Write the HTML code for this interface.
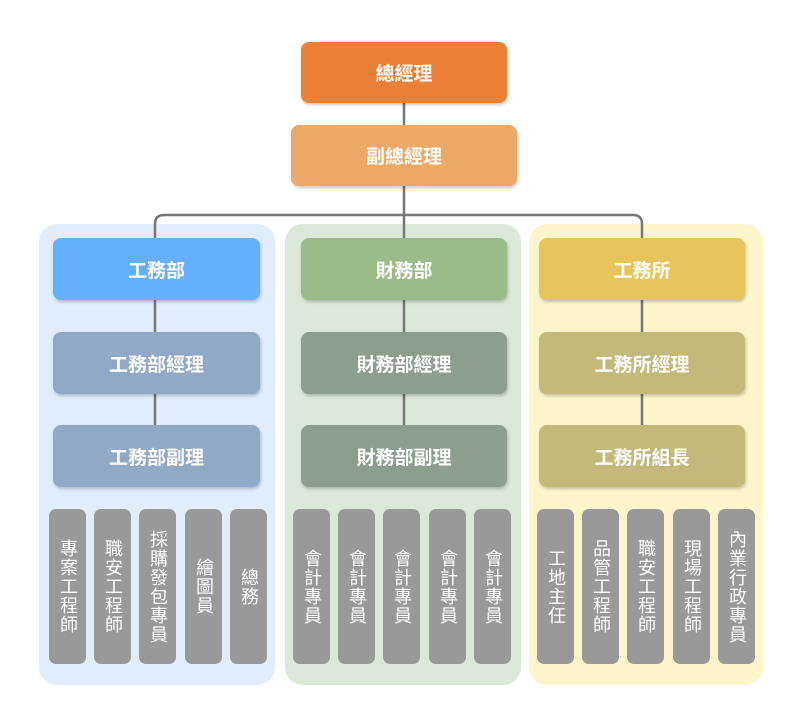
<!DOCTYPE html>
<html><head><meta charset="utf-8"><style>
body{margin:0;width:800px;height:720px;background:#fff;position:relative;overflow:hidden;font-family:"Liberation Sans","Noto Sans CJK TC",sans-serif}
.p{position:absolute;border-radius:18px}
.b{position:absolute;border-radius:8px;color:#fff;font-weight:bold;font-size:19px;display:flex;align-items:center;justify-content:center;box-shadow:1px 2px 3px rgba(0,0,0,.22);letter-spacing:0}
.l{position:absolute;top:509px;height:155px;width:37px;border-radius:7px;background:#999;color:#fff;font-size:18px;writing-mode:vertical-rl;display:flex;align-items:center;justify-content:center;line-height:37px;letter-spacing:1px}
svg{position:absolute;left:0;top:0}
</style></head><body>
<div class="p" style="left:39px;top:224px;width:236px;height:461px;background:#E1EDFC"></div>
<div class="p" style="left:285px;top:224px;width:236px;height:461px;background:#DCE8DA"></div>
<div class="p" style="left:529px;top:224px;width:234px;height:461px;background:#FDF6CA"></div>
<svg width="800" height="720"><g fill="none" stroke="#777" stroke-width="2.5">
<path d="M404 103V125M404 186V238"/>
<path d="M155 238V224Q155 215 164 215H633Q642 215 642 224V238"/>
<path d="M155 300V332M155 394V425M404 300V332M404 394V425M642 300V332M642 394V425"/>
</g></svg>
<div class="b" style="left:301px;top:42px;width:206px;height:61px;background:#EB7F36">總經理</div>
<div class="b" style="left:291px;top:125px;width:226px;height:61px;background:#ECA867">副總經理</div>
<div class="b" style="left:53px;top:238px;width:207px;height:62px;background:#64AFFE">工務部</div>
<div class="b" style="left:53px;top:332px;width:207px;height:62px;background:#91A8C6">工務部經理</div>
<div class="b" style="left:53px;top:425px;width:207px;height:62px;background:#91A8C6">工務部副理</div>
<div class="b" style="left:301px;top:238px;width:206px;height:62px;background:#9BBB88">財務部</div>
<div class="b" style="left:301px;top:332px;width:206px;height:62px;background:#8E9E8E">財務部經理</div>
<div class="b" style="left:301px;top:425px;width:206px;height:62px;background:#8E9E8E">財務部副理</div>
<div class="b" style="left:539px;top:238px;width:206px;height:62px;background:#E8C55A">工務所</div>
<div class="b" style="left:539px;top:332px;width:206px;height:62px;background:#C3B97A">工務所經理</div>
<div class="b" style="left:539px;top:425px;width:206px;height:62px;background:#C3B97A">工務所組長</div>
<div class="l" style="left:49px">專案工程師</div>
<div class="l" style="left:94px">職安工程師</div>
<div class="l" style="left:139px">採購發包專員</div>
<div class="l" style="left:185px">繪圖員</div>
<div class="l" style="left:230px">總務</div>
<div class="l" style="left:293px">會計專員</div>
<div class="l" style="left:338px">會計專員</div>
<div class="l" style="left:383px">會計專員</div>
<div class="l" style="left:429px">會計專員</div>
<div class="l" style="left:474px">會計專員</div>
<div class="l" style="left:537px">工地主任</div>
<div class="l" style="left:582px">品管工程師</div>
<div class="l" style="left:627px">職安工程師</div>
<div class="l" style="left:673px">現場工程師</div>
<div class="l" style="left:718px">內業行政專員</div>
</body></html>
